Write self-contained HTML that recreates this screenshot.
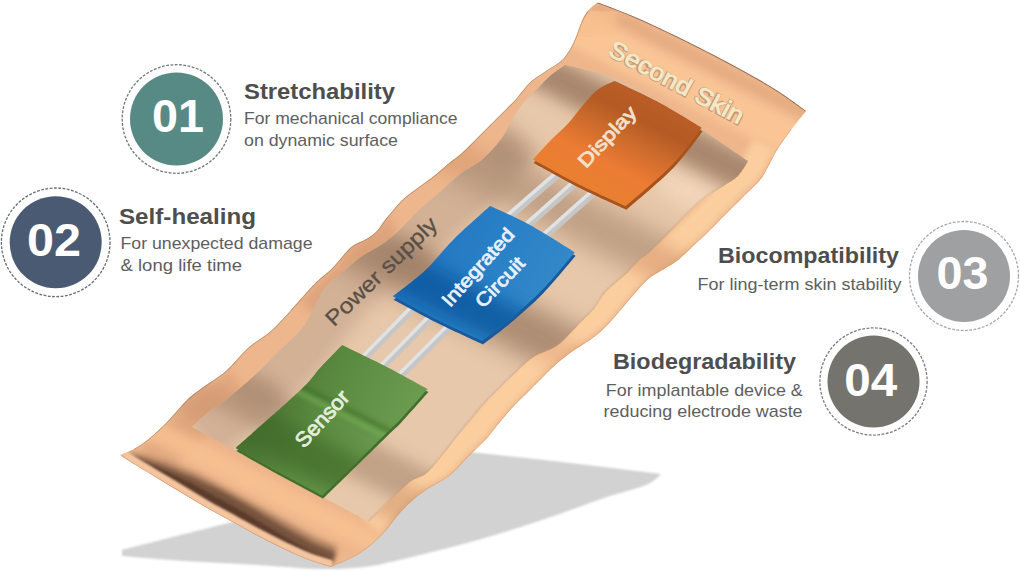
<!DOCTYPE html>
<html><head><meta charset="utf-8"><style>
html,body{margin:0;padding:0;background:#fff;}
svg{display:block;}
.t{font-family:"Liberation Sans",sans-serif;}
</style></head><body>
<svg width="1020" height="571" viewBox="0 0 1020 571">
<defs>
  <filter id="b8" x="-50%" y="-50%" width="200%" height="200%"><feGaussianBlur stdDeviation="8"/></filter>
  <filter id="b12" x="-50%" y="-50%" width="200%" height="200%"><feGaussianBlur stdDeviation="12"/></filter>
  <filter id="b5" x="-50%" y="-50%" width="200%" height="200%"><feGaussianBlur stdDeviation="5"/></filter>
  <filter id="b3" x="-50%" y="-50%" width="200%" height="200%"><feGaussianBlur stdDeviation="3"/></filter>
  <filter id="b2" x="-50%" y="-50%" width="200%" height="200%"><feGaussianBlur stdDeviation="2"/></filter>
  <filter id="b1" x="-50%" y="-50%" width="200%" height="200%"><feGaussianBlur stdDeviation="1"/></filter>
  <filter id="b05" x="-50%" y="-50%" width="200%" height="200%"><feGaussianBlur stdDeviation="0.6"/></filter>
  <clipPath id="cOuter"><path d="M597.7,2.5 C597.7,2.5 621.1,11.0 636.0,17.5 C650.9,24.0 670.0,33.1 687.0,41.5 C704.0,49.9 723.0,59.8 738.0,68.0 C753.0,76.2 765.7,83.3 777.0,90.5 C788.3,97.7 806.0,111.0 806.0,111.0 C806.0,111.0 795.8,123.5 791.0,130.0 C786.2,136.5 780.8,143.8 777.0,150.0 C773.2,156.2 770.8,162.0 768.0,167.0 C765.2,172.0 764.2,175.0 760.0,180.0 C755.8,185.0 748.7,191.3 743.0,197.0 C737.3,202.7 732.3,207.7 726.0,214.0 C719.7,220.3 711.0,229.2 705.0,235.0 C699.0,240.8 694.5,244.8 690.0,249.0 C685.5,253.2 682.3,256.7 678.0,260.0 C673.7,263.3 668.7,266.1 664.0,269.0 C659.3,271.9 654.1,274.3 650.0,277.5 C645.9,280.7 643.0,284.2 639.5,288.0 C636.0,291.8 632.5,295.9 629.0,300.0 C625.5,304.1 622.3,308.1 618.5,312.5 C614.7,316.9 610.1,322.4 606.0,326.5 C601.9,330.6 597.9,334.0 594.0,337.0 C590.1,340.0 586.9,341.8 582.6,344.7 C578.3,347.6 572.9,350.8 568.0,354.5 C563.1,358.2 557.5,362.9 553.0,367.0 C548.5,371.1 545.5,374.5 541.0,379.0 C536.5,383.5 530.9,389.1 526.0,394.0 C521.1,398.9 516.3,403.2 511.5,408.5 C506.7,413.8 500.9,420.9 497.0,425.6 C493.1,430.4 491.7,432.9 488.0,437.0 C484.3,441.1 479.0,446.0 475.0,450.0 C471.0,454.0 468.3,456.7 464.0,461.0 C459.7,465.3 456.2,470.6 449.0,476.0 C441.8,481.4 428.9,487.7 421.0,493.5 C413.1,499.3 408.1,504.1 401.6,511.0 C395.1,517.9 389.2,527.5 382.0,534.7 C374.8,541.9 366.9,548.9 358.4,554.3 C349.9,559.7 331.0,567.0 331.0,567.0 C331.0,567.0 315.5,562.7 307.5,559.6 C299.5,556.5 291.1,552.4 282.8,548.5 C274.6,544.6 266.2,540.3 258.0,536.0 C249.8,531.7 241.7,527.1 233.5,522.6 C225.3,518.1 217.1,513.7 208.8,509.0 C200.6,504.3 192.2,499.1 184.0,494.2 C175.8,489.3 167.6,484.3 159.4,479.4 C151.2,474.5 141.3,468.7 134.7,464.6 C128.1,460.5 120.0,455.0 120.0,455.0 C120.0,455.0 129.0,451.8 134.0,449.0 C139.0,446.2 144.3,442.7 150.0,438.0 C155.7,433.3 161.8,427.3 168.0,421.0 C174.2,414.7 181.3,405.5 187.0,400.0 C192.7,394.5 195.5,392.8 202.0,388.0 C208.5,383.2 218.3,377.7 226.0,371.0 C233.7,364.3 240.5,354.7 248.0,348.0 C255.5,341.3 263.8,337.3 271.0,331.0 C278.2,324.7 285.0,316.5 291.0,310.0 C297.0,303.5 302.6,296.8 307.0,292.0 C311.4,287.2 313.4,284.8 317.5,281.0 C321.6,277.2 327.4,273.0 331.5,269.0 C335.6,265.0 338.5,260.8 342.0,257.0 C345.5,253.2 348.4,249.0 352.5,246.0 C356.6,243.0 362.4,241.5 366.5,239.0 C370.6,236.5 373.9,234.2 377.0,231.0 C380.1,227.8 382.0,223.8 385.0,220.0 C388.0,216.2 391.8,211.7 395.0,208.0 C398.2,204.3 400.5,201.5 404.5,198.0 C408.5,194.5 414.1,190.7 419.0,187.0 C423.9,183.3 429.2,179.8 434.0,176.0 C438.8,172.2 443.3,167.8 448.0,164.0 C452.7,160.2 457.2,157.3 462.0,153.0 C466.8,148.7 472.8,142.5 477.0,138.3 C481.2,134.1 484.0,131.3 487.5,127.8 C491.0,124.3 494.8,120.5 498.0,117.3 C501.2,114.1 503.9,111.4 506.8,108.5 C509.7,105.6 512.9,102.7 515.5,99.8 C518.1,96.9 519.8,94.1 522.5,91.0 C525.2,87.9 527.2,84.6 531.5,81.0 C535.8,77.4 543.4,72.7 548.3,69.4 C553.2,66.1 557.5,64.2 561.0,61.0 C564.5,57.8 566.9,54.3 569.4,50.4 C571.9,46.5 573.6,42.7 575.7,37.8 C577.8,32.9 579.9,25.6 582.0,21.0 C584.1,16.4 585.7,13.6 588.3,10.5 C590.9,7.4 597.7,2.5 597.7,2.5Z"/></clipPath>
  <clipPath id="cInner"><path d="M565.0,65.0 C565.0,65.0 597.7,71.8 613.5,78.0 C629.3,84.2 645.4,93.5 660.0,102.0 C674.6,110.5 686.3,119.2 701.0,129.0 C715.7,138.8 748.0,161.0 748.0,161.0 C748.0,161.0 742.3,171.7 738.0,176.0 C733.7,180.3 728.2,182.8 722.0,187.0 C715.8,191.2 708.7,194.5 701.0,201.0 C693.3,207.5 684.4,217.6 676.0,226.0 C667.6,234.4 656.6,245.8 650.5,251.5 C644.4,257.2 643.9,255.9 639.5,260.0 C635.1,264.1 629.6,270.8 624.0,276.0 C618.4,281.2 611.0,286.0 606.0,291.5 C601.0,297.0 598.3,303.8 594.0,309.0 C589.7,314.2 586.0,317.0 580.0,323.0 C574.0,329.0 565.8,339.3 558.0,345.0 C550.2,350.7 540.4,352.5 533.5,357.0 C526.6,361.5 522.1,366.7 516.4,372.0 C510.6,377.3 504.3,383.8 499.0,389.0 C493.7,394.2 489.3,398.2 484.5,403.5 C479.7,408.8 474.1,416.1 470.0,421.0 C465.9,425.9 466.8,424.7 460.0,433.0 C453.2,441.3 437.8,462.5 429.0,471.0 C420.2,479.5 417.5,475.5 407.5,484.0 C397.5,492.5 369.0,522.0 369.0,522.0 C369.0,522.0 321.5,496.5 300.0,485.0 C278.5,473.5 258.0,462.7 240.0,453.0 C222.0,443.3 192.0,427.0 192.0,427.0 C192.0,427.0 201.2,417.7 207.0,413.0 C212.8,408.3 219.0,405.3 227.0,399.0 C235.0,392.7 246.3,383.0 255.0,375.0 C263.7,367.0 271.0,359.0 279.0,351.0 C287.0,343.0 296.5,335.5 303.0,327.0 C309.5,318.5 314.2,306.8 318.0,300.0 C321.8,293.2 321.7,291.3 326.0,286.5 C330.3,281.7 338.2,275.9 344.0,271.0 C349.8,266.1 354.3,261.7 361.0,257.0 C367.7,252.3 377.6,247.5 384.0,243.0 C390.4,238.5 393.8,235.5 399.6,230.0 C405.4,224.5 412.1,216.5 419.0,210.0 C425.9,203.5 434.0,197.1 441.0,191.0 C448.0,184.9 454.0,178.8 461.0,173.5 C468.0,168.2 476.1,165.1 483.0,159.0 C489.9,152.9 497.7,143.9 502.6,137.0 C507.5,130.1 508.9,123.7 512.6,117.7 C516.3,111.7 520.8,106.0 525.0,101.0 C529.2,96.0 533.8,92.2 538.0,88.0 C542.2,83.8 545.5,79.8 550.0,76.0 C554.5,72.2 565.0,65.0 565.0,65.0Z"/></clipPath>
  <linearGradient id="gInner" x1="470" y1="170" x2="620" y2="320" gradientUnits="userSpaceOnUse">
    <stop offset="0" stop-color="#d2ac92"/><stop offset="0.5" stop-color="#ddbca2"/><stop offset="1" stop-color="#ecd0b8"/>
  </linearGradient>
  <linearGradient id="gDisplay" x1="560" y1="180" x2="614.5" y2="73.1" gradientUnits="userSpaceOnUse">
    <stop offset="0" stop-color="#e8802f"/><stop offset="0.3" stop-color="#ec7c34"/><stop offset="0.59" stop-color="#c8682a"/><stop offset="0.75" stop-color="#b45a24"/><stop offset="1" stop-color="#bc5e26"/>
  </linearGradient>
  <linearGradient id="gIC" x1="392.9" y1="296.2" x2="519.4" y2="360.7" gradientUnits="userSpaceOnUse">
    <stop offset="0" stop-color="#2276c0"/><stop offset="0.5" stop-color="#2a80c6"/><stop offset="1" stop-color="#3288c8"/>
  </linearGradient>
  <linearGradient id="gSensor" x1="235.6" y1="448" x2="363.9" y2="513.4" gradientUnits="userSpaceOnUse">
    <stop offset="0" stop-color="#4a7432"/><stop offset="0.4" stop-color="#5a8a40"/><stop offset="1" stop-color="#6c9c50"/>
  </linearGradient>
</defs>
<rect width="1020" height="571" fill="#fff"/>

<!-- shadow -->
<path d="M122.0,550.0 C122.0,550.0 300.0,505.0 300.0,505.0 C300.0,505.0 470.0,452.0 470.0,452.0 C470.0,452.0 538.2,459.3 570.0,463.0 C601.8,466.7 661.0,474.0 661.0,474.0 C661.0,474.0 655.5,481.0 646.0,485.0 C636.5,489.0 622.3,491.8 604.0,498.0 C585.7,504.2 558.8,514.5 536.0,522.0 C513.2,529.5 489.8,536.7 467.0,543.0 C444.2,549.3 416.2,556.0 399.0,560.0 C381.8,564.0 377.2,565.5 364.0,567.0 C350.8,568.5 337.7,569.3 320.0,569.0 C302.3,568.7 280.7,566.3 258.0,565.0 C235.3,563.7 206.7,562.5 184.0,561.0 C161.3,559.5 122.0,556.0 122.0,556.0 C122.0,556.0 122.0,550.0 122.0,550.0Z" fill="#d2d2d2" filter="url(#b1)"/>

<!-- patch outer -->
<path d="M597.7,2.5 C597.7,2.5 621.1,11.0 636.0,17.5 C650.9,24.0 670.0,33.1 687.0,41.5 C704.0,49.9 723.0,59.8 738.0,68.0 C753.0,76.2 765.7,83.3 777.0,90.5 C788.3,97.7 806.0,111.0 806.0,111.0 C806.0,111.0 795.8,123.5 791.0,130.0 C786.2,136.5 780.8,143.8 777.0,150.0 C773.2,156.2 770.8,162.0 768.0,167.0 C765.2,172.0 764.2,175.0 760.0,180.0 C755.8,185.0 748.7,191.3 743.0,197.0 C737.3,202.7 732.3,207.7 726.0,214.0 C719.7,220.3 711.0,229.2 705.0,235.0 C699.0,240.8 694.5,244.8 690.0,249.0 C685.5,253.2 682.3,256.7 678.0,260.0 C673.7,263.3 668.7,266.1 664.0,269.0 C659.3,271.9 654.1,274.3 650.0,277.5 C645.9,280.7 643.0,284.2 639.5,288.0 C636.0,291.8 632.5,295.9 629.0,300.0 C625.5,304.1 622.3,308.1 618.5,312.5 C614.7,316.9 610.1,322.4 606.0,326.5 C601.9,330.6 597.9,334.0 594.0,337.0 C590.1,340.0 586.9,341.8 582.6,344.7 C578.3,347.6 572.9,350.8 568.0,354.5 C563.1,358.2 557.5,362.9 553.0,367.0 C548.5,371.1 545.5,374.5 541.0,379.0 C536.5,383.5 530.9,389.1 526.0,394.0 C521.1,398.9 516.3,403.2 511.5,408.5 C506.7,413.8 500.9,420.9 497.0,425.6 C493.1,430.4 491.7,432.9 488.0,437.0 C484.3,441.1 479.0,446.0 475.0,450.0 C471.0,454.0 468.3,456.7 464.0,461.0 C459.7,465.3 456.2,470.6 449.0,476.0 C441.8,481.4 428.9,487.7 421.0,493.5 C413.1,499.3 408.1,504.1 401.6,511.0 C395.1,517.9 389.2,527.5 382.0,534.7 C374.8,541.9 366.9,548.9 358.4,554.3 C349.9,559.7 331.0,567.0 331.0,567.0 C331.0,567.0 315.5,562.7 307.5,559.6 C299.5,556.5 291.1,552.4 282.8,548.5 C274.6,544.6 266.2,540.3 258.0,536.0 C249.8,531.7 241.7,527.1 233.5,522.6 C225.3,518.1 217.1,513.7 208.8,509.0 C200.6,504.3 192.2,499.1 184.0,494.2 C175.8,489.3 167.6,484.3 159.4,479.4 C151.2,474.5 141.3,468.7 134.7,464.6 C128.1,460.5 120.0,455.0 120.0,455.0 C120.0,455.0 129.0,451.8 134.0,449.0 C139.0,446.2 144.3,442.7 150.0,438.0 C155.7,433.3 161.8,427.3 168.0,421.0 C174.2,414.7 181.3,405.5 187.0,400.0 C192.7,394.5 195.5,392.8 202.0,388.0 C208.5,383.2 218.3,377.7 226.0,371.0 C233.7,364.3 240.5,354.7 248.0,348.0 C255.5,341.3 263.8,337.3 271.0,331.0 C278.2,324.7 285.0,316.5 291.0,310.0 C297.0,303.5 302.6,296.8 307.0,292.0 C311.4,287.2 313.4,284.8 317.5,281.0 C321.6,277.2 327.4,273.0 331.5,269.0 C335.6,265.0 338.5,260.8 342.0,257.0 C345.5,253.2 348.4,249.0 352.5,246.0 C356.6,243.0 362.4,241.5 366.5,239.0 C370.6,236.5 373.9,234.2 377.0,231.0 C380.1,227.8 382.0,223.8 385.0,220.0 C388.0,216.2 391.8,211.7 395.0,208.0 C398.2,204.3 400.5,201.5 404.5,198.0 C408.5,194.5 414.1,190.7 419.0,187.0 C423.9,183.3 429.2,179.8 434.0,176.0 C438.8,172.2 443.3,167.8 448.0,164.0 C452.7,160.2 457.2,157.3 462.0,153.0 C466.8,148.7 472.8,142.5 477.0,138.3 C481.2,134.1 484.0,131.3 487.5,127.8 C491.0,124.3 494.8,120.5 498.0,117.3 C501.2,114.1 503.9,111.4 506.8,108.5 C509.7,105.6 512.9,102.7 515.5,99.8 C518.1,96.9 519.8,94.1 522.5,91.0 C525.2,87.9 527.2,84.6 531.5,81.0 C535.8,77.4 543.4,72.7 548.3,69.4 C553.2,66.1 557.5,64.2 561.0,61.0 C564.5,57.8 566.9,54.3 569.4,50.4 C571.9,46.5 573.6,42.7 575.7,37.8 C577.8,32.9 579.9,25.6 582.0,21.0 C584.1,16.4 585.7,13.6 588.3,10.5 C590.9,7.4 597.7,2.5 597.7,2.5Z" fill="#eeb68c"/>
<g clip-path="url(#cOuter)">
  <!-- right border lighter -->
  <path d="M764.6,143.4 C763.2,146.2 758.4,155.5 755.8,160.1 C753.3,164.7 753.0,166.5 749.2,171.0 C745.5,175.5 738.6,181.6 733.1,187.1 C727.6,192.6 722.4,197.8 716.1,204.1 C709.8,210.4 701.2,219.2 695.2,225.0 C689.3,230.7 684.8,234.7 680.5,238.7 C676.2,242.7 673.4,245.8 669.5,248.9 C665.5,252.0 661.3,254.2 656.6,257.1 C651.9,260.1 646.0,262.9 641.4,266.4 C636.9,270.0 633.1,274.4 629.3,278.4 C625.4,282.5 621.9,286.7 618.4,290.9 C614.8,295.0 611.6,299.0 607.9,303.3 C604.2,307.6 599.9,312.8 596.1,316.6 C592.3,320.4 589.0,323.2 585.4,325.9 C581.9,328.7 579.1,330.2 574.8,333.1 C570.5,336.0 564.8,339.4 559.6,343.3 C554.4,347.2 548.3,352.3 543.6,356.6 C538.8,360.9 535.7,364.5 531.1,369.1 C526.5,373.7 521.1,379.1 516.1,384.1 C511.1,389.1 506.2,393.6 501.2,399.0 C496.2,404.5 490.1,411.9 486.2,416.7 C482.3,421.5 481.1,423.7 477.6,427.6 C474.1,431.5 469.0,436.2 465.1,440.1 C461.2,444.0 458.2,447.0 454.1,451.1 C450.0,455.2 447.5,459.6 440.6,464.8 C433.7,470.0 420.9,476.1 412.7,482.2 C404.5,488.3 398.3,494.1 391.4,501.4 C384.5,508.6 374.6,521.7 371.2,525.8" stroke="#fcd0a0" stroke-width="24" fill="none" filter="url(#b3)" opacity="0.95"/>
  <path d="M50,-239.4 L900,193.7" stroke="#fac696" stroke-width="36" fill="none" filter="url(#b5)" opacity="0.95"/>
  <path d="M50,-271.9 L900,161.2" stroke="#e2a87e" stroke-width="10" fill="none" filter="url(#b3)" opacity="0.7"/>
  <!-- top border lighter -->
  <path d="M575.0,30.0 C578.8,28.0 591.3,18.8 598.0,18.0 C604.7,17.2 612.2,23.8 615.0,25.0" stroke="#f8be8e" stroke-width="26" fill="none" filter="url(#b5)" opacity="0.8"/>
  <!-- left border waves darker -->
  <path d="M300,300 L390,215 L400,240 L320,320Z" fill="#d39a74" filter="url(#b5)" opacity="0.6"/>
  <path d="M140,450 L230,370 L245,395 L170,470Z" fill="#d59c74" filter="url(#b5)" opacity="0.5"/>
  <path d="M50,377.9 L900,811.0" stroke="#f8c292" stroke-width="22" fill="none" filter="url(#b5)" opacity="0.8"/>
  <!-- border wave bands -->
  <path d="M50,-48.6 L900,384.5" stroke="#d89a70" stroke-width="36" fill="none" filter="url(#b8)" opacity="0.6"/>
  <path d="M50,324.0 L900,757.1" stroke="#c8906a" stroke-width="40" fill="none" filter="url(#b8)" opacity="0.5"/>
  <path d="M50,92.8 L900,525.9" stroke="#d89a70" stroke-width="30" fill="none" filter="url(#b8)" opacity="0.4"/>
  <!-- lip crease dark -->
  <path d="M124.8,451.9 L137.4,460.4 L162.0,475.1 L186.6,489.9 L211.3,504.7 L235.9,518.2 L260.3,531.6 L285.0,544.0 L309.3,554.9 L332.5,562.2 L337.3,547.0 L315.7,538.1 L293.6,525.9 L270.1,513.0 L246.0,499.8 L221.7,486.4 L196.3,473.6 L169.2,463.1 L141.1,454.4 L123.7,453.5Z" fill="#8a644c" filter="url(#b3)" opacity="0.7"/>
  <path d="M124.8,451.9 L137.4,460.4 L162.0,475.1 L186.6,489.9 L211.3,504.7 L235.9,518.2 L260.3,531.6 L285.0,544.0 L309.3,554.9 L332.5,562.2 L335.5,552.7 L313.6,543.7 L291.0,531.3 L267.8,517.4 L244.1,503.3 L219.7,489.9 L193.8,477.9 L166.6,467.4 L138.9,457.8 L124.8,451.9Z" fill="#6a4a36" filter="url(#b2)" opacity="0.8"/>
  <path d="M124.8,451.9 L137.4,460.4 L162.0,475.1 L186.6,489.9 L211.3,504.7 L235.9,518.2 L260.3,531.6 L285.0,544.0 L309.3,554.9 L332.5,562.2 L333.4,559.4 L310.7,551.2 L287.5,538.6 L264.0,524.5 L240.2,510.3 L215.8,496.9 L190.7,483.0 L164.5,470.8 L138.4,458.7 L124.8,451.9Z" fill="#56392a" filter="url(#b1)" opacity="0.85"/>
  <path d="M124.0,453.1 C126.1,454.5 130.3,457.8 136.6,461.6 C142.8,465.5 153.0,471.5 161.2,476.4 C169.4,481.3 177.6,486.3 185.8,491.2 C194.0,496.1 202.3,501.2 210.5,506.0 C218.8,510.7 227.0,515.0 235.2,519.5 C243.4,524.0 251.4,528.6 259.6,532.9 C267.8,537.2 276.1,541.4 284.3,545.3 C292.5,549.2 300.8,553.3 308.8,556.3 C316.7,559.4 328.2,562.4 332.1,563.7" stroke="#f4c6a0" stroke-width="7" fill="none" filter="url(#b1)"/>
  <path d="M122.0,456.0 C124.1,457.4 128.5,460.7 134.7,464.6 C140.9,468.5 151.2,474.5 159.4,479.4 C167.6,484.3 175.8,489.3 184.0,494.2 C192.2,499.1 200.6,504.3 208.8,509.0 C217.1,513.7 225.3,518.1 233.5,522.6 C241.7,527.1 249.8,531.7 258.0,536.0 C266.2,540.3 274.6,544.6 282.8,548.5 C291.1,552.4 299.5,556.5 307.5,559.6 C315.5,562.7 327.1,565.8 331.0,567.0" stroke="#c89070" stroke-width="1" fill="none" filter="url(#b05)"/>
  <path d="M134.0,449.0 C136.7,447.2 144.3,442.7 150.0,438.0 C155.7,433.3 161.8,427.3 168.0,421.0 C174.2,414.7 181.3,405.5 187.0,400.0 C192.7,394.5 195.5,392.8 202.0,388.0 C208.5,383.2 218.3,377.7 226.0,371.0 C233.7,364.3 240.5,354.7 248.0,348.0 C255.5,341.3 263.8,337.3 271.0,331.0 C278.2,324.7 285.0,316.5 291.0,310.0 C297.0,303.5 302.6,296.8 307.0,292.0 C311.4,287.2 313.4,284.8 317.5,281.0 C321.6,277.2 327.4,273.0 331.5,269.0 C335.6,265.0 338.5,260.8 342.0,257.0 C345.5,253.2 348.4,249.0 352.5,246.0 C356.6,243.0 362.4,241.5 366.5,239.0 C370.6,236.5 373.9,234.2 377.0,231.0 C380.1,227.8 382.0,223.8 385.0,220.0 C388.0,216.2 391.8,211.7 395.0,208.0 C398.2,204.3 400.5,201.5 404.5,198.0 C408.5,194.5 414.1,190.7 419.0,187.0 C423.9,183.3 429.2,179.8 434.0,176.0 C438.8,172.2 443.3,167.8 448.0,164.0 C452.7,160.2 457.2,157.3 462.0,153.0 C466.8,148.7 472.8,142.5 477.0,138.3 C481.2,134.1 484.0,131.3 487.5,127.8 C491.0,124.3 494.8,120.5 498.0,117.3 C501.2,114.1 503.9,111.4 506.8,108.5 C509.7,105.6 512.9,102.7 515.5,99.8 C518.1,96.9 519.8,94.1 522.5,91.0 C525.2,87.9 527.2,84.6 531.5,81.0 C535.8,77.4 543.4,72.7 548.3,69.4 C553.2,66.1 557.5,64.2 561.0,61.0 C564.5,57.8 566.9,54.3 569.4,50.4 C571.9,46.5 573.6,42.7 575.7,37.8 C577.8,32.9 579.9,25.6 582.0,21.0 C584.1,16.4 587.2,12.2 588.3,10.5" stroke="#9a6e54" stroke-width="1.6" fill="none" filter="url(#b05)" opacity="0.55"/>
  <path d="M791.0,130.0 C788.7,133.3 780.8,143.8 777.0,150.0 C773.2,156.2 770.8,162.0 768.0,167.0 C765.2,172.0 764.2,175.0 760.0,180.0 C755.8,185.0 748.7,191.3 743.0,197.0 C737.3,202.7 732.3,207.7 726.0,214.0 C719.7,220.3 711.0,229.2 705.0,235.0 C699.0,240.8 694.5,244.8 690.0,249.0 C685.5,253.2 682.3,256.7 678.0,260.0 C673.7,263.3 668.7,266.1 664.0,269.0 C659.3,271.9 654.1,274.3 650.0,277.5 C645.9,280.7 643.0,284.2 639.5,288.0 C636.0,291.8 632.5,295.9 629.0,300.0 C625.5,304.1 622.3,308.1 618.5,312.5 C614.7,316.9 610.1,322.4 606.0,326.5 C601.9,330.6 597.9,334.0 594.0,337.0 C590.1,340.0 586.9,341.8 582.6,344.7 C578.3,347.6 572.9,350.8 568.0,354.5 C563.1,358.2 557.5,362.9 553.0,367.0 C548.5,371.1 545.5,374.5 541.0,379.0 C536.5,383.5 530.9,389.1 526.0,394.0 C521.1,398.9 516.3,403.2 511.5,408.5 C506.7,413.8 500.9,420.9 497.0,425.6 C493.1,430.4 491.7,432.9 488.0,437.0 C484.3,441.1 479.0,446.0 475.0,450.0 C471.0,454.0 468.3,456.7 464.0,461.0 C459.7,465.3 456.2,470.6 449.0,476.0 C441.8,481.4 428.9,487.7 421.0,493.5 C413.1,499.3 408.1,504.1 401.6,511.0 C395.1,517.9 389.2,527.5 382.0,534.7 C374.8,541.9 366.9,548.9 358.4,554.3 C349.9,559.7 331.0,567.0 331.0,567.0" stroke="#c89468" stroke-width="1.4" fill="none" filter="url(#b05)" opacity="0.5"/>
  <!-- top edge dark line -->
  <path d="M597.7,2.5 C597.7,2.5 621.1,11.0 636.0,17.5 C650.9,24.0 670.0,33.1 687.0,41.5 C704.0,49.9 723.0,59.8 738.0,68.0 C753.0,76.2 765.7,83.3 777.0,90.5 C788.3,97.7 806.0,111.0 806.0,111.0" stroke="#8a6650" stroke-width="1.5" fill="none" filter="url(#b05)"/>
</g>
<!-- inner recessed -->
<path d="M565.0,65.0 C565.0,65.0 597.7,71.8 613.5,78.0 C629.3,84.2 645.4,93.5 660.0,102.0 C674.6,110.5 686.3,119.2 701.0,129.0 C715.7,138.8 748.0,161.0 748.0,161.0 C748.0,161.0 742.3,171.7 738.0,176.0 C733.7,180.3 728.2,182.8 722.0,187.0 C715.8,191.2 708.7,194.5 701.0,201.0 C693.3,207.5 684.4,217.6 676.0,226.0 C667.6,234.4 656.6,245.8 650.5,251.5 C644.4,257.2 643.9,255.9 639.5,260.0 C635.1,264.1 629.6,270.8 624.0,276.0 C618.4,281.2 611.0,286.0 606.0,291.5 C601.0,297.0 598.3,303.8 594.0,309.0 C589.7,314.2 586.0,317.0 580.0,323.0 C574.0,329.0 565.8,339.3 558.0,345.0 C550.2,350.7 540.4,352.5 533.5,357.0 C526.6,361.5 522.1,366.7 516.4,372.0 C510.6,377.3 504.3,383.8 499.0,389.0 C493.7,394.2 489.3,398.2 484.5,403.5 C479.7,408.8 474.1,416.1 470.0,421.0 C465.9,425.9 466.8,424.7 460.0,433.0 C453.2,441.3 437.8,462.5 429.0,471.0 C420.2,479.5 417.5,475.5 407.5,484.0 C397.5,492.5 369.0,522.0 369.0,522.0 C369.0,522.0 321.5,496.5 300.0,485.0 C278.5,473.5 258.0,462.7 240.0,453.0 C222.0,443.3 192.0,427.0 192.0,427.0 C192.0,427.0 201.2,417.7 207.0,413.0 C212.8,408.3 219.0,405.3 227.0,399.0 C235.0,392.7 246.3,383.0 255.0,375.0 C263.7,367.0 271.0,359.0 279.0,351.0 C287.0,343.0 296.5,335.5 303.0,327.0 C309.5,318.5 314.2,306.8 318.0,300.0 C321.8,293.2 321.7,291.3 326.0,286.5 C330.3,281.7 338.2,275.9 344.0,271.0 C349.8,266.1 354.3,261.7 361.0,257.0 C367.7,252.3 377.6,247.5 384.0,243.0 C390.4,238.5 393.8,235.5 399.6,230.0 C405.4,224.5 412.1,216.5 419.0,210.0 C425.9,203.5 434.0,197.1 441.0,191.0 C448.0,184.9 454.0,178.8 461.0,173.5 C468.0,168.2 476.1,165.1 483.0,159.0 C489.9,152.9 497.7,143.9 502.6,137.0 C507.5,130.1 508.9,123.7 512.6,117.7 C516.3,111.7 520.8,106.0 525.0,101.0 C529.2,96.0 533.8,92.2 538.0,88.0 C542.2,83.8 545.5,79.8 550.0,76.0 C554.5,72.2 565.0,65.0 565.0,65.0Z" fill="#e8c8aa"/>
<g clip-path="url(#cInner)">
  <!-- left side darkening -->
  <path d="M199.0,436.0 C205.7,430.7 224.0,416.8 239.0,404.0 C254.0,391.2 274.0,374.8 289.0,359.0 C304.0,343.2 315.7,324.5 329.0,309.0 C342.3,293.5 352.3,281.0 369.0,266.0 C385.7,251.0 410.7,234.0 429.0,219.0 C447.3,204.0 463.8,190.8 479.0,176.0 C494.2,161.2 513.2,137.7 520.0,130.0" stroke="#a88670" stroke-width="60" fill="none" filter="url(#b8)" opacity="0.35"/>
  <ellipse cx="500" cy="150" rx="28" ry="16" transform="rotate(27 500 150)" fill="#a0806a" filter="url(#b8)" opacity="0.55"/>
  <ellipse cx="255" cy="390" rx="30" ry="16" transform="rotate(27 255 390)" fill="#9a7a64" filter="url(#b8)" opacity="0.4"/>
  <ellipse cx="410" cy="262" rx="30" ry="14" transform="rotate(27 410 262)" fill="#9a7a62" filter="url(#b8)" opacity="0.6"/>
  <ellipse cx="688" cy="192" rx="34" ry="14" transform="rotate(27 688 192)" fill="#f6dcc0" filter="url(#b8)" opacity="0.7"/>
  <!-- wave dark bands -->
  <path d="M50,-179.9 L900,253.2" stroke="#9c7c64" stroke-width="36" fill="none" filter="url(#b8)" opacity="0.85"/>
  <path d="M50,-52.0 L900,381.1" stroke="#a88870" stroke-width="46" fill="none" filter="url(#b12)" opacity="0.62"/>
  <path d="M50,87.2 L900,520.3" stroke="#9e7e66" stroke-width="50" fill="none" filter="url(#b12)" opacity="0.8"/>
  <path d="M50,300.4 L900,733.6" stroke="#a88870" stroke-width="40" fill="none" filter="url(#b8)" opacity="0.6"/>
  <!-- inner right boundary thin dark -->
  <path d="M738.0,176.0 C735.3,177.8 728.2,182.8 722.0,187.0 C715.8,191.2 708.7,194.5 701.0,201.0 C693.3,207.5 684.4,217.6 676.0,226.0 C667.6,234.4 656.6,245.8 650.5,251.5 C644.4,257.2 643.9,255.9 639.5,260.0 C635.1,264.1 629.6,270.8 624.0,276.0 C618.4,281.2 611.0,286.0 606.0,291.5 C601.0,297.0 598.3,303.8 594.0,309.0 C589.7,314.2 586.0,317.0 580.0,323.0 C574.0,329.0 565.8,339.3 558.0,345.0 C550.2,350.7 540.4,352.5 533.5,357.0 C526.6,361.5 522.1,366.7 516.4,372.0 C510.6,377.3 504.3,383.8 499.0,389.0 C493.7,394.2 489.3,398.2 484.5,403.5 C479.7,408.8 474.1,416.1 470.0,421.0 C465.9,425.9 466.8,424.7 460.0,433.0 C453.2,441.3 437.8,462.5 429.0,471.0 C420.2,479.5 417.5,475.5 407.5,484.0 C397.5,492.5 369.0,522.0 369.0,522.0" stroke="#c89a78" stroke-width="2" fill="none" filter="url(#b1)" opacity="0.6"/>
</g>

<!-- wires -->
<g stroke="#c6c6c6" stroke-width="8" stroke-linecap="butt" fill="none">
  <path d="M560,172 L505,220"/><path d="M576,182 L522,230"/><path d="M594,192 L540,240"/>
  <path d="M418,303 L365,357"/><path d="M436,312 L383,366"/><path d="M454,322 L401,375"/>
</g>
<g stroke="#e2e2e2" stroke-width="3.5" fill="none">
  <path d="M558,171 L503,219"/><path d="M574,181 L520,229"/><path d="M592,191 L538,239"/>
  <path d="M416,302 L363,356"/><path d="M434,311 L381,365"/><path d="M452,321 L399,374"/>
</g>

  <clipPath id="gDisplayclip"><path d="M614.6,81.1 C614.6,81.1 645.5,95.2 660.0,103.0 C674.5,110.8 701.7,127.7 701.7,127.7 C701.7,127.7 684.7,151.9 672.0,165.0 C659.3,178.1 625.6,206.2 625.6,206.2 C625.6,206.2 595.4,192.8 580.0,185.0 C564.6,177.2 533.0,159.5 533.0,159.5 C533.0,159.5 545.0,146.2 551.0,140.0 C557.0,133.8 563.5,128.5 569.0,122.5 C574.5,116.5 579.2,109.5 584.0,104.0 C588.8,98.5 592.9,93.3 598.0,89.5 C603.1,85.7 614.6,81.1 614.6,81.1Z"/></clipPath>
  <path d="M615.4,84.6 C615.4,84.6 646.3,98.7 660.8,106.5 C675.3,114.3 702.5,131.2 702.5,131.2 C702.5,131.2 685.5,155.4 672.8,168.5 C660.1,181.6 626.4,209.7 626.4,209.7 C626.4,209.7 596.2,196.3 580.8,188.5 C565.4,180.7 533.8,163.0 533.8,163.0 C533.8,163.0 545.8,149.7 551.8,143.5 C557.8,137.3 564.3,132.0 569.8,126.0 C575.3,120.0 580.0,113.0 584.8,107.5 C589.6,102.0 593.7,96.8 598.8,93.0 C603.9,89.2 615.4,84.6 615.4,84.6Z" fill="#a8521c"/>
  <path d="M614.6,81.1 C614.6,81.1 645.5,95.2 660.0,103.0 C674.5,110.8 701.7,127.7 701.7,127.7 C701.7,127.7 684.7,151.9 672.0,165.0 C659.3,178.1 625.6,206.2 625.6,206.2 C625.6,206.2 595.4,192.8 580.0,185.0 C564.6,177.2 533.0,159.5 533.0,159.5 C533.0,159.5 545.0,146.2 551.0,140.0 C557.0,133.8 563.5,128.5 569.0,122.5 C574.5,116.5 579.2,109.5 584.0,104.0 C588.8,98.5 592.9,93.3 598.0,89.5 C603.1,85.7 614.6,81.1 614.6,81.1Z" fill="url(#gDisplay)"/>
  <g clip-path="url(#gDisplayclip)">
  </g>

  <clipPath id="gICclip"><path d="M490.1,206.0 C490.1,206.0 515.9,217.3 530.0,225.0 C544.1,232.7 574.8,252.3 574.8,252.3 C574.8,252.3 553.3,278.6 542.7,289.6 C532.1,300.6 521.1,309.9 511.0,318.5 C500.9,327.1 482.2,340.9 482.2,340.9 C482.2,340.9 452.5,327.4 437.6,320.0 C422.7,312.6 392.9,296.2 392.9,296.2 C392.9,296.2 414.3,280.6 424.4,271.2 C434.5,261.8 442.4,250.6 453.3,239.7 C464.2,228.8 490.1,206.0 490.1,206.0Z"/></clipPath>
  <path d="M490.9,209.5 C490.9,209.5 516.7,220.8 530.8,228.5 C544.9,236.2 575.6,255.8 575.6,255.8 C575.6,255.8 554.1,282.1 543.5,293.1 C532.9,304.1 521.9,313.4 511.8,322.0 C501.7,330.6 483.0,344.4 483.0,344.4 C483.0,344.4 453.3,330.9 438.4,323.5 C423.5,316.1 393.7,299.7 393.7,299.7 C393.7,299.7 415.1,284.1 425.2,274.7 C435.3,265.3 443.2,254.1 454.1,243.2 C465.1,232.3 490.9,209.5 490.9,209.5Z" fill="#1a5a9a"/>
  <path d="M490.1,206.0 C490.1,206.0 515.9,217.3 530.0,225.0 C544.1,232.7 574.8,252.3 574.8,252.3 C574.8,252.3 553.3,278.6 542.7,289.6 C532.1,300.6 521.1,309.9 511.0,318.5 C500.9,327.1 482.2,340.9 482.2,340.9 C482.2,340.9 452.5,327.4 437.6,320.0 C422.7,312.6 392.9,296.2 392.9,296.2 C392.9,296.2 414.3,280.6 424.4,271.2 C434.5,261.8 442.4,250.6 453.3,239.7 C464.2,228.8 490.1,206.0 490.1,206.0Z" fill="url(#gIC)"/>
  <g clip-path="url(#gICclip)">
    <path d="M50,92.8 L900,525.9" stroke="#0a5aa0" stroke-width="40" fill="none" filter="url(#b8)" opacity="0.85"/>
  </g>

  <clipPath id="gSensorclip"><path d="M342.1,345.0 C342.1,345.0 370.8,358.7 385.0,366.0 C399.2,373.3 427.6,389.0 427.6,389.0 C427.6,389.0 406.8,412.8 400.0,420.0 C393.2,427.2 399.9,419.9 387.0,432.5 C374.1,445.1 322.5,495.6 322.5,495.6 C322.5,495.6 294.5,480.9 280.0,473.0 C265.5,465.1 235.6,448.0 235.6,448.0 C235.6,448.0 285.9,403.8 300.0,390.5 C314.1,377.2 313.0,375.6 320.0,368.0 C327.0,360.4 342.1,345.0 342.1,345.0Z"/></clipPath>
  <path d="M342.9,348.0 C342.9,348.0 371.6,361.7 385.8,369.0 C400.1,376.3 428.4,392.0 428.4,392.0 C428.4,392.0 407.6,415.8 400.8,423.0 C394.0,430.2 400.7,422.9 387.8,435.5 C374.9,448.1 323.3,498.6 323.3,498.6 C323.3,498.6 295.3,483.9 280.8,476.0 C266.3,468.1 236.4,451.0 236.4,451.0 C236.4,451.0 286.7,406.8 300.8,393.5 C314.9,380.2 313.8,378.6 320.8,371.0 C327.8,363.4 342.9,348.0 342.9,348.0Z" fill="#42702c"/>
  <path d="M342.1,345.0 C342.1,345.0 370.8,358.7 385.0,366.0 C399.2,373.3 427.6,389.0 427.6,389.0 C427.6,389.0 406.8,412.8 400.0,420.0 C393.2,427.2 399.9,419.9 387.0,432.5 C374.1,445.1 322.5,495.6 322.5,495.6 C322.5,495.6 294.5,480.9 280.0,473.0 C265.5,465.1 235.6,448.0 235.6,448.0 C235.6,448.0 285.9,403.8 300.0,390.5 C314.1,377.2 313.0,375.6 320.0,368.0 C327.0,360.4 342.1,345.0 342.1,345.0Z" fill="url(#gSensor)"/>
  <g clip-path="url(#gSensorclip)">
    <path d="M50,322.9 L900,756.0" stroke="#3e6628" stroke-width="40" fill="none" filter="url(#b8)" opacity="0.6"/>
  </g>


<g clip-path="url(#gSensorclip)">
  <path d="M50,257.8 L900,690.9" stroke="#3f7028" stroke-width="5" fill="none" filter="url(#b2)" opacity="0.6"/>
  <path d="M50,265.7 L900,698.8" stroke="#72ac52" stroke-width="5" fill="none" filter="url(#b2)" opacity="0.7"/>
</g>
<!-- chip labels -->
<text class="t" transform="translate(586,169) rotate(-47)" font-size="19" font-weight="400" fill="#f2e0cc" stroke="#f2e0cc" stroke-width="0.8" textLength="76" lengthAdjust="spacingAndGlyphs">Display</text>
<text class="t" transform="translate(450,308) rotate(-48)" font-size="19" font-weight="400" fill="#e6f0fa" stroke="#e6f0fa" stroke-width="0.8" textLength="98" lengthAdjust="spacingAndGlyphs">Integrated</text>
<text class="t" transform="translate(483,309) rotate(-46)" font-size="19" font-weight="400" fill="#e6f0fa" stroke="#e6f0fa" stroke-width="0.8" textLength="62" lengthAdjust="spacingAndGlyphs">Circuit</text>
<text class="t" transform="translate(304,449) rotate(-47.5)" font-size="21" font-weight="400" fill="#e4eedc" stroke="#e4eedc" stroke-width="0.8" textLength="69" lengthAdjust="spacingAndGlyphs">Sensor</text>
<text class="t" transform="translate(334,327.5) rotate(-44)" font-size="22" fill="#585048" stroke="#585048" stroke-width="0.3" textLength="146" lengthAdjust="spacingAndGlyphs">Power supply</text>
<text class="t" transform="translate(607.5,55.5) rotate(28)" font-size="24" fill="#a07858" stroke="#a07858" stroke-width="1.8" font-weight="700" textLength="149" lengthAdjust="spacingAndGlyphs" opacity="0.6" filter="url(#b05)">Second Skin</text>
<text class="t" transform="translate(607,54.5) rotate(28)" font-size="24" fill="#f3e9c8" stroke="#f3e9c8" stroke-width="0.9" font-weight="400" textLength="149" lengthAdjust="spacingAndGlyphs">Second Skin</text>

<!-- circles -->
<g fill="none" stroke-dasharray="2.8 1.5" stroke-width="1.3">
  <circle cx="176.5" cy="119" r="54.3" stroke="#6a7a78"/>
  <circle cx="55.7" cy="242.3" r="54.3" stroke="#656b75"/>
  <circle cx="964" cy="276" r="54.5" stroke="#a8a8a8"/>
  <circle cx="873.5" cy="381.5" r="53.6" stroke="#7c7c78"/>
</g>
<circle cx="176.5" cy="119" r="46.5" fill="#578a84"/>
<circle cx="55.7" cy="242.3" r="46" fill="#4a5a72"/>
<circle cx="964" cy="276" r="46" fill="#9ea0a2"/>
<circle cx="873.5" cy="381.5" r="46" fill="#74736e"/>
<g class="t" font-weight="700" font-size="45.5" fill="#fff">
  <text x="152" y="131.8" textLength="52" lengthAdjust="spacingAndGlyphs">01</text>
  <text x="27" y="256.2" textLength="54" lengthAdjust="spacingAndGlyphs">02</text>
  <text x="936.5" y="289.3" textLength="52" lengthAdjust="spacingAndGlyphs">03</text>
  <text x="844.3" y="396.2" textLength="53" lengthAdjust="spacingAndGlyphs">04</text>
</g>

<!-- captions -->
<g class="t">
  <text x="244" y="98.7" font-size="22.5" font-weight="700" fill="#4e4e4e" textLength="151" lengthAdjust="spacingAndGlyphs">Stretchability</text>
  <text x="244" y="124.2" font-size="17" fill="#5e5e5e" textLength="213.5" lengthAdjust="spacingAndGlyphs">For mechanical compliance</text>
  <text x="244" y="145.7" font-size="17" fill="#5e5e5e" textLength="154" lengthAdjust="spacingAndGlyphs">on dynamic surface</text>

  <text x="119" y="223.7" font-size="22.5" font-weight="700" fill="#4e4e4e" textLength="137" lengthAdjust="spacingAndGlyphs">Self-healing</text>
  <text x="120.5" y="249.4" font-size="17" fill="#5e5e5e" textLength="192" lengthAdjust="spacingAndGlyphs">For unexpected damage</text>
  <text x="120.5" y="270.9" font-size="17" fill="#5e5e5e" textLength="121.5" lengthAdjust="spacingAndGlyphs">&amp; long life time</text>

  <text x="718" y="262.6" font-size="22.5" font-weight="700" fill="#4e4e4e" textLength="181" lengthAdjust="spacingAndGlyphs">Biocompatibility</text>
  <text x="697.5" y="289.6" font-size="17" fill="#5e5e5e" textLength="204" lengthAdjust="spacingAndGlyphs">For ling-term skin stability</text>

  <text x="613" y="368.7" font-size="22.5" font-weight="700" fill="#4e4e4e" textLength="183" lengthAdjust="spacingAndGlyphs">Biodegradability</text>
  <text x="605.8" y="395.7" font-size="17" fill="#5e5e5e" textLength="197" lengthAdjust="spacingAndGlyphs">For implantable device &amp;</text>
  <text x="603.6" y="417.2" font-size="17" fill="#5e5e5e" textLength="199" lengthAdjust="spacingAndGlyphs">reducing electrode waste</text>
</g>
</svg>
</body></html>
